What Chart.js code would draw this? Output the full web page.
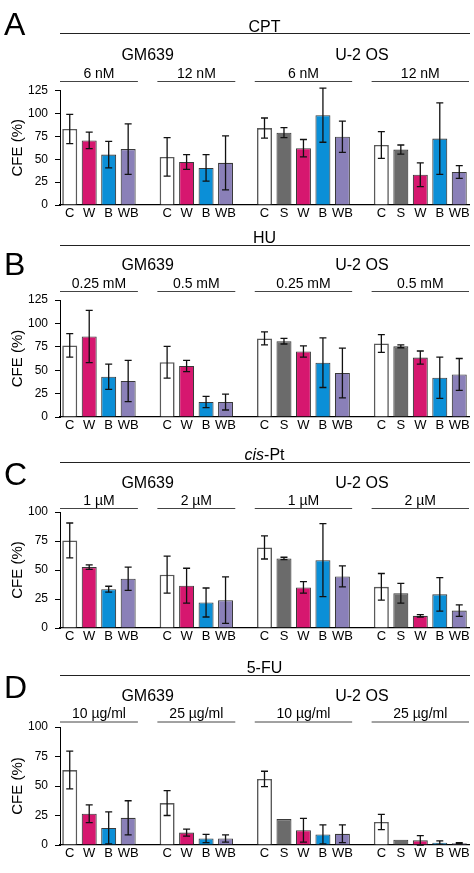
<!DOCTYPE html>
<html lang="en">
<head>
<meta charset="UTF-8">
<title>CFE after drug treatment</title>
<style>
  body { margin: 0; background: #fff; width: 474px; height: 873px; position: relative; overflow: hidden; }
  .panel { position: absolute; left: 0; width: 474px; }
</style>
</head>
<body>
<div class="panel" style="top:0px"><canvas id="chartA" width="474" height="222"></canvas></div>
<div class="panel" style="top:222px"><canvas id="chartB" width="474" height="212"></canvas></div>
<div class="panel" style="top:434px"><canvas id="chartC" width="474" height="211"></canvas></div>
<div class="panel" style="top:645px"><canvas id="chartD" width="474" height="217"></canvas></div>

<script src="https://cdn.jsdelivr.net/npm/chart.js"></script>
<script>
// bars along the x axis, '' = gap between dose groups
const categories = ['C','W','B','WB','', 'C','W','B','WB','', 'C','S','W','B','WB','', 'C','S','W','B','WB'];
const cellLines = ['GM639', 'U-2 OS'];

// A - CPT
const cptDoses = ['6 nM', '12 nM', '6 nM', '12 nM'];
const cptMean = [83, 70.5, 55, 61, null, 52.5, 47, 40.5, 46, null, 84, 79, 62, 98, 74.5, null, 65.5, 60.5, 33, 72.5, 36];
const cptErr  = [16, 9, 14.5, 27.5, null, 21, 8, 14.5, 29.5, null, 11, 5.5, 9.5, 29.5, 17, null, 14.5, 5, 13, 39, 7];

// B - HU
const huDoses = ['0.25 mM', '0.5 mM', '0.25 mM', '0.5 mM'];
const huMean = [76.5, 86, 43, 38.5, null, 58.5, 54.5, 16, 16, null, 84, 81, 70, 58, 47, null, 78.5, 75.5, 63.5, 42, 45.5];
const huErr  = [12.5, 28, 13.5, 22, null, 17, 6, 6, 8.5, null, 7, 3, 6, 26.5, 26.5, null, 9.5, 1.5, 7, 22, 17];

// C - cis-Pt
const ptDoses = ['1 \u00b5M', '2 \u00b5M', '1 \u00b5M', '2 \u00b5M'];
const ptMean = [75.5, 52.5, 33.5, 42.5, null, 46, 36.5, 22, 24, null, 69.5, 60, 35, 58.5, 44.5, null, 35.5, 30, 10.5, 29, 15];
const ptErr  = [15, 2, 2.5, 10, null, 16, 15, 12.5, 20, null, 10, 1, 5, 31.5, 9, null, 11.5, 8.5, 1, 14.5, 5];

// D - 5-FU
const fuDoses = ['10 \u00b5g/ml', '25 \u00b5g/ml', '10 \u00b5g/ml', '25 \u00b5g/ml'];
const fuMean = [63.5, 26.5, 14.5, 23, null, 35.5, 10.5, 5.5, 5.5, null, 56, 22, 12.5, 9, 9.5, null, 19.5, 4.5, 4, 2, 1.5];
const fuErr  = [16, 7.5, 13.5, 14.5, null, 10.5, 3, 3.5, 3, null, 6.5, 0, 10, 8, 7.5, null, 6.5, 0, 4, 1.5, 0.5];

const barColors = { C: '#ffffff', S: '#6b6b6b', W: '#d6176f', B: '#0b8fd7', WB: '#8a80b8' };
const FONT = '"Liberation Sans", Arial, sans-serif';
Chart.defaults.font.family = FONT;
Chart.defaults.color = '#000';

// runs of consecutive non-empty labels = dose groups
const doseRuns = [];
categories.forEach((c, i) => {
  if (!c) return;
  const last = doseRuns[doseRuns.length - 1];
  if (last && last[1] === i - 1) last[1] = i; else doseRuns.push([i, i]);
});
const cellRuns = [[doseRuns[0][0], doseRuns[1][1]], [doseRuns[2][0], doseRuns[3][1]]];

function headerPlugin(p) {
  return {
    id: 'header' + p.letter,
    afterDraw(chart) {
      const ctx = chart.ctx, x = chart.scales.x, area = chart.chartArea;
      const half = (x.getPixelForValue(1) - x.getPixelForValue(0)) / 2;
      const span = r => [x.getPixelForValue(r[0]) - half, x.getPixelForValue(r[1]) + half];
      ctx.save();
      ctx.fillStyle = '#000';
      ctx.textBaseline = 'alphabetic';

      // panel letter
      ctx.font = '32px ' + FONT;
      ctx.textAlign = 'left';
      ctx.fillText(p.letter, 4, p.letterY);

      // drug name (cis- in italics) and line over all bars
      const mid = (area.left + area.right) / 2;
      let parts = p.drug.startsWith('cis-') ? [['cis', true], [p.drug.slice(3), false]] : [[p.drug, false]];
      let widths = parts.map(([t, it]) => { ctx.font = (it ? 'italic ' : '') + '16px ' + FONT; return ctx.measureText(t).width; });
      let xx = mid - widths.reduce((a, b) => a + b, 0) / 2;
      parts.forEach(([t, it], k) => {
        ctx.font = (it ? 'italic ' : '') + '16px ' + FONT;
        ctx.fillText(t, xx, p.drugY);
        xx += widths[k];
      });
      ctx.strokeStyle = '#222';
      ctx.lineWidth = 1;
      ctx.beginPath();
      ctx.moveTo(area.left, p.lineY + 0.5);
      ctx.lineTo(area.right + 1, p.lineY + 0.5);
      ctx.stroke();

      // cell lines
      ctx.textAlign = 'center';
      ctx.font = '16px ' + FONT;
      cellRuns.forEach((r, k) => {
        const [a, b] = span(r);
        ctx.fillText(cellLines[k], (a + b) / 2, p.cellY);
      });

      // doses with lines underneath
      ctx.font = '14px ' + FONT;
      ctx.strokeStyle = '#444';
      doseRuns.forEach((r, k) => {
        const [a, b] = span(r);
        ctx.fillText(p.doses[k], (a + b) / 2, p.doseY);
        ctx.beginPath();
        ctx.moveTo(a, p.doseLineY + 0.5);
        ctx.lineTo(b, p.doseLineY + 0.5);
        ctx.stroke();
      });
      ctx.restore();
    }
  };
}

function errorBarPlugin(mean, err) {
  return {
    id: 'errorBars',
    afterDatasetsDraw(chart) {
      const ctx = chart.ctx, x = chart.scales.x, y = chart.scales.y;
      ctx.save();
      ctx.strokeStyle = '#111';
      ctx.lineWidth = 1.3;
      mean.forEach((m, i) => {
        if (m === null || !err[i]) return;
        const px = x.getPixelForValue(i);
        const top = y.getPixelForValue(m + err[i]);
        const bot = y.getPixelForValue(Math.max(m - err[i], 0));
        ctx.beginPath();
        ctx.moveTo(px, top); ctx.lineTo(px, bot);
        ctx.moveTo(px - 3.5, top); ctx.lineTo(px + 3.5, top);
        ctx.moveTo(px - 3.5, bot); ctx.lineTo(px + 3.5, bot);
        ctx.stroke();
      });
      ctx.restore();
    }
  };
}

function makePanel(id, p) {
  new Chart(document.getElementById(id), {
    type: 'bar',
    data: {
      labels: categories,
      datasets: [{
        data: p.mean,
        backgroundColor: categories.map(c => barColors[c] || 'transparent'),
        borderColor: categories.map(c => c === 'C' ? '#5a5a5a' : '#3a3a3a'),
        borderWidth: categories.map(c => c === 'C' ? 1.6 : 1.1),
        barPercentage: 0.77,
        categoryPercentage: 1
      }]
    },
    options: {
      responsive: false,
      animation: false,
      devicePixelRatio: 1,
      layout: { padding: { top: p.plotTop, right: 5, left: 0, bottom: 0 } },
      plugins: { legend: { display: false }, tooltip: { enabled: false } },
      scales: {
        x: {
          grid: { display: false, drawTicks: false },
          border: { display: true, color: '#000', width: 1.3 },
          ticks: { color: '#000', font: { size: 13 }, padding: 1, maxRotation: 0, autoSkip: false },
          afterFit: s => { s.height = 17; }
        },
        y: {
          min: 0,
          max: p.yMax,
          ticks: { stepSize: 25, color: '#000', font: { size: 12 }, padding: 7 },
          grid: { drawOnChartArea: false, drawTicks: true, tickLength: 5, color: '#000' },
          border: { color: '#000' },
          title: { display: true, text: 'CFE (%)', color: '#000', font: { size: 15 }, padding: { top: 9, bottom: 0 } },
          afterFit: s => { s.width = 60; }
        }
      }
    },
    plugins: [headerPlugin(p), errorBarPlugin(p.mean, p.err)]
  });
}

makePanel('chartA', { letter: 'A', drug: 'CPT', doses: cptDoses, mean: cptMean, err: cptErr, yMax: 125,
  plotTop: 90.5, letterY: 35, drugY: 31.5, lineY: 33, cellY: 60, doseY: 78.3, doseLineY: 81 });
makePanel('chartB', { letter: 'B', drug: 'HU', doses: huDoses, mean: huMean, err: huErr, yMax: 125,
  plotTop: 78, letterY: 53, drugY: 20.7, lineY: 23, cellY: 48, doseY: 66.3, doseLineY: 69 });
makePanel('chartC', { letter: 'C', drug: 'cis-Pt', doses: ptDoses, mean: ptMean, err: ptErr, yMax: 100,
  plotTop: 78, letterY: 51, drugY: 26, lineY: 28, cellY: 54.3, doseY: 71, doseLineY: 74 });
makePanel('chartD', { letter: 'D', drug: '5-FU', doses: fuDoses, mean: fuMean, err: fuErr, yMax: 100,
  plotTop: 82, letterY: 53, drugY: 27.7, lineY: 30, cellY: 55.7, doseY: 73, doseLineY: 76.5 });
</script>
</body>
</html>
